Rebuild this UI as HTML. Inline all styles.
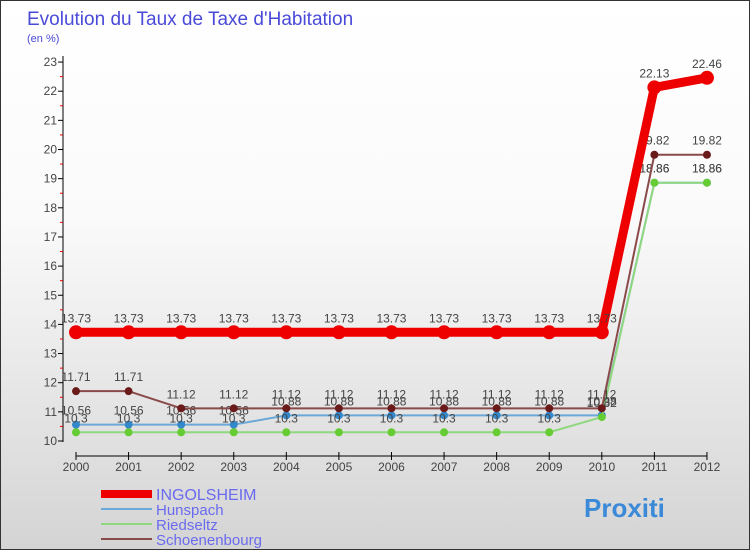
<!DOCTYPE html>
<html><head><meta charset="utf-8"><style>
body{margin:0}
#wrap{width:750px;height:550px;position:relative;box-sizing:border-box;border:1px solid #333;background:linear-gradient(#fff,#fafafa 40%,#d4d4d4);font-family:"Liberation Sans",sans-serif;overflow:hidden}
</style></head><body>
<div id="wrap">
<svg id="c" width="750" height="550">
<text x="26" y="24" font-size="19" fill="#4a4ad8">Evolution du Taux de Taxe d'Habitation</text>
<text x="26" y="41" font-size="11" fill="#4a4ad8">(en %)</text>
</svg>
</div>
<script>
const years=[2000,2001,2002,2003,2004,2005,2006,2007,2008,2009,2010,2011,2012];
const ingolsheim=[13.73,13.73,13.73,13.73,13.73,13.73,13.73,13.73,13.73,13.73,13.73,22.13,22.46];
const hunspach=[10.56,10.56,10.56,10.56,10.88,10.88,10.88,10.88,10.88,10.88,10.88,18.86,18.86];
const riedseltz=[10.3,10.3,10.3,10.3,10.3,10.3,10.3,10.3,10.3,10.3,10.82,18.86,18.86];
const schoenenbourg=[11.71,11.71,11.12,11.12,11.12,11.12,11.12,11.12,11.12,11.12,11.12,19.82,19.82];
const yTicks=[10,11,12,13,14,15,16,17,18,19,20,21,22,23];
const NS="http://www.w3.org/2000/svg",svg=document.getElementById('c');
const x=i=>75+i*52.58, y=v=>440-(v-10)*29.15;
function el(t,a,p){const e=document.createElementNS(NS,t);for(const k in a)e.setAttribute(k,a[k]);(p||svg).appendChild(e);return e;}
const axes=el('g',{});


el('line',{x1:62,y1:55,x2:62,y2:441,stroke:'#000'},axes);
el('line',{x1:75,y1:455,x2:706,y2:455,stroke:'#000'},axes);
yTicks.forEach(v=>{
 el('line',{x1:57,y1:y(v),x2:62,y2:y(v),stroke:'#000'},axes);
 if(v<23)el('line',{x1:59,y1:y(v+0.5),x2:62,y2:y(v+0.5),stroke:'#e00'},axes);
 const t=el('text',{x:56,y:y(v)+4,'text-anchor':'end','font-size':12,fill:'#444'},axes);t.textContent=v;
 
 
});
years.forEach((yr,i)=>{
 el('line',{x1:x(i),y1:451,x2:x(i),y2:459,stroke:'#000'},axes);
 const t=el('text',{x:x(i),y:470,'text-anchor':'middle','font-size':12,fill:'#444'},axes);t.textContent=yr;
 
 
});
function series(name,data,col,w,r,dot){
 const g=el('g',{});
 
 
 el('polyline',{points:data.map((v,i)=>x(i)+','+y(v)).join(' '),fill:'none',stroke:col,'stroke-width':w,'stroke-linejoin':'round'},g);
 data.forEach((v,i)=>{
  const c=el('circle',{cx:x(i),cy:y(v),r:r,fill:dot},g);
  
  
  const t=el('text',{x:x(i),y:y(v)-10,'text-anchor':'middle','font-size':12,fill:'#444'},g);t.textContent=v;
  
  
 });
}
series('hunspach',hunspach,'#6aa8d8',2,4,'#3388cc');
series('riedseltz',riedseltz,'#90d880',2,4,'#66cc33');
series('schoenenbourg',schoenenbourg,'#8b4a4a',2,4,'#6b1a1a');
series('ingolsheim',ingolsheim,'#ee0000',9,7,'#ee0000');
const legend=[['INGOLSHEIM','#ee0000',8,16],['Hunspach','#6aa8d8',2,15],['Riedseltz','#90d880',2,15],['Schoenenbourg','#8b4a4a',2,15]];
legend.forEach((l,i)=>{
 const g=el('g',{});
 
 
 const ly=493+i*15;
 el('line',{x1:100,y1:ly,x2:151,y2:ly,stroke:l[1],'stroke-width':l[2]},g);
 const t=el('text',{x:155,y:ly+6,'font-size':l[3],fill:'#6a6af0'},g);t.textContent=l[0];
});
const lg=el('text',{x:583,y:516,'font-size':26,'font-weight':'bold',fill:'#3a8ad8'});
lg.textContent='Proxiti';


</script>
</body></html>
